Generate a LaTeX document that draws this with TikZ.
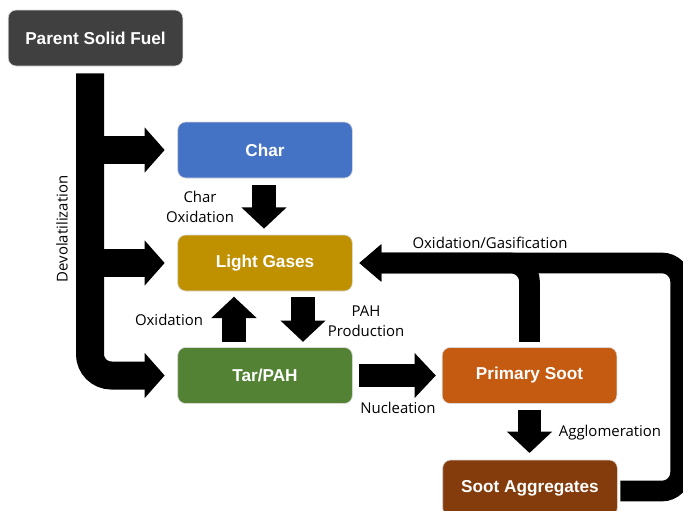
\documentclass[tikz,border=0pt]{standalone}
\usepackage{fontspec}
\setmainfont{Open Sans}
\newfontfamily\boxfont{Liberation Sans}
\usetikzlibrary{arrows.meta}

\definecolor{fuelgray}{RGB}{64,64,64}
\definecolor{charblue}{RGB}{68,114,196}
\definecolor{gasgold}{RGB}{191,144,0}
\definecolor{targreen}{RGB}{84,130,53}
\definecolor{sootorange}{RGB}{197,90,17}
\definecolor{aggbrown}{RGB}{132,60,12}

\tikzset{
  stage/.style={rounded corners=6pt, draw=black!15, line width=0.5pt, minimum width=131pt, minimum height=42pt, inner sep=0pt, text=white, font=\boxfont\bfseries\fontsize{12.9}{15}\selectfont},
  procnote/.style={inner sep=0pt, align=center, font=\fontsize{11.2}{15}\selectfont},
  bigflow/.style={line width=21pt, -{Triangle[width=33pt,length=15pt]}},
  flow/.style={line width=17.5pt, -{Triangle[width=33pt,length=16pt]}},
  loopflow/.style={line width=15.5pt, -{Triangle[width=27pt,length=16.5pt]}},
}

\begin{document}
\begin{tikzpicture}[x=0.75pt,y=0.75pt,yscale=-1,xscale=1]
\useasboundingbox (0,0) rectangle (683,511);

%Shape: Rounded Rect [id:parent]
\node[stage, fill=fuelgray] (parent) at (95.5,38) {Parent Solid Fuel};
%Shape: Rounded Rect [id:char]
\node[stage, fill=charblue] (char) at (265,150) {Char};
%Shape: Rounded Rect [id:gases]
\node[stage, fill=gasgold] (gases) at (265,263) {Light Gases};
%Shape: Rounded Rect [id:tar]
\node[stage, fill=targreen] (tar) at (265,375.5) {Tar/PAH};
%Shape: Rounded Rect [id:primary]
\node[stage, fill=sootorange] (primary) at (529.5,375.5) {Primary Soot};
%Shape: Rounded Rect [id:aggregates]
\node[stage, fill=aggbrown] (aggregates) at (530,488) {Soot Aggregates};

\coordinate (trunk) at ([shift={(-5.5,7)}]parent.south);
\coordinate (loopturn) at ([shift={(328,0)}]gases.east);

%Fat Lines: devolatilization
\draw[bigflow, rounded corners=16pt, shorten >=9.5pt] (trunk) |- (tar.west);
\draw[bigflow, shorten >=9.5pt] (trunk |- char.west) -- (char.west);
\draw[bigflow, shorten >=9.5pt] (trunk |- gases.west) -- (gases.west);

%Fat Lines: between stages
\draw[flow, shorten <=5pt, shorten >=4.5pt] ([shift={(-1,0)}]char.south) -- ([shift={(-1,0)}]gases.north);
\draw[flow, shorten <=4pt, shorten >=4pt] ([shift={(-31,0)}]tar.north) -- ([shift={(-31,0)}]gases.south);
\draw[flow, shorten <=4pt, shorten >=4pt] ([shift={(38,0)}]gases.south) -- ([shift={(38,0)}]tar.north);
\draw[flow, shorten <=4.5pt, shorten >=4.5pt] (tar.east) -- (primary.west);
\draw[flow, shorten <=4.5pt, shorten >=5pt] (primary.south) -- (primary.south |- aggregates.north);

%Fat Lines: oxidation/gasification loop
\draw[loopflow, rounded corners=14pt, shorten <=2pt, shorten >=5pt] ([shift={(0,3)}]aggregates.east) -| (loopturn) -- (gases.east);
\draw[loopflow, rounded corners=14pt, shorten <=4pt, shorten >=5pt] (primary.north) |- (gases.east);

% Text Node
\node[procnote, rotate=90] (devol) at (62,229) {Devolatilization};
% Text Node
\node[procnote] (charox) at (200,207) {Char\\Oxidation};
% Text Node
\node[procnote] (tarox) at (169,320) {Oxidation};
% Text Node
\node[procnote] (pahprod) at (366,321) {PAH\\Production};
% Text Node
\node[procnote] (nucl) at (398,408) {Nucleation};
% Text Node
\node[procnote] (oxgas) at (490,243) {Oxidation/Gasification};
% Text Node
\node[procnote] (agglom) at (610,433) {Agglomeration};
\end{tikzpicture}
\end{document}
